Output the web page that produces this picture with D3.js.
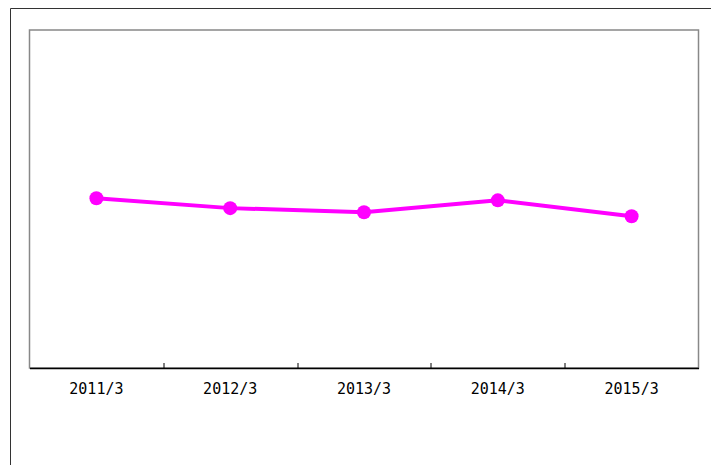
<!DOCTYPE html>
<html>
<head>
<meta charset="utf-8">
<script src="https://cdn.jsdelivr.net/npm/d3@7"></script>
<style>
  body { margin: 0; background: #fff; }
  svg { display: block; }
</style>
</head>
<body>
<div id="chart"></div>
<script>
// chart data
var periods = ["2011/3", "2012/3", "2013/3", "2014/3", "2015/3"];
var values = [50.2, 47.3, 46.1, 49.6, 44.9];

var svgWidth = 711;
var svgHeight = 465;

var margin = { top: 30, right: 12.5, bottom: 97, left: 29.5 };
var width = 698.5 - margin.left;
var height = 368 - margin.top;

var svg = d3.select("#chart")
    .append("svg")
    .attr("width", svgWidth)
    .attr("height", svgHeight);

// outer border (left and top only visible)
svg.append("path")
    .attr("d", "M10.5,465 V8.5 H711")
    .attr("fill", "none")
    .attr("stroke", "#333")
    .attr("stroke-width", 1);

var chartGroup = svg.append("g")
    .attr("transform", `translate(${margin.left}, ${margin.top})`);

var xBand = d3.scaleBand()
    .domain(periods)
    .range([0, width]);

var yLinearScale = d3.scaleLinear()
    .domain([0, 100])
    .range([height, 0]);

// plot frame
chartGroup.append("rect")
    .attr("x", 0)
    .attr("y", 0)
    .attr("width", width)
    .attr("height", height)
    .attr("fill", "none")
    .attr("stroke", "#888")
    .attr("stroke-width", 1.5);

// x axis with inward ticks between categories
var bottomAxis = d3.axisBottom(xBand).tickSize(0).tickPadding(15);
var xAxis = chartGroup.append("g")
    .attr("transform", `translate(0, ${height})`)
    .call(bottomAxis);
xAxis.select(".domain").attr("stroke", "#000").attr("stroke-width", 1.5);
xAxis.selectAll("text")
    .attr("font-family", "'DejaVu Sans Mono', monospace")
    .attr("font-size", "15px")
    .attr("fill", "#000");

chartGroup.selectAll(".sep")
    .data(periods.slice(1))
    .enter()
    .append("line")
    .attr("x1", d => Math.round(xBand(d)) + 0.5)
    .attr("x2", d => Math.round(xBand(d)) + 0.5)
    .attr("y1", height)
    .attr("y2", height - 5)
    .attr("stroke", "#000");

var xc = d => xBand(d) + xBand.bandwidth() / 2;

var line = d3.line()
    .x((d, i) => xc(periods[i]))
    .y(d => yLinearScale(d));

chartGroup.append("path")
    .datum(values)
    .attr("d", line)
    .attr("fill", "none")
    .attr("stroke", "#ff00ff")
    .attr("stroke-width", 4);

chartGroup.selectAll("circle")
    .data(values)
    .enter()
    .append("circle")
    .attr("cx", (d, i) => xc(periods[i]))
    .attr("cy", d => yLinearScale(d))
    .attr("r", 7)
    .attr("fill", "#ff00ff");
</script>
</body>
</html>
